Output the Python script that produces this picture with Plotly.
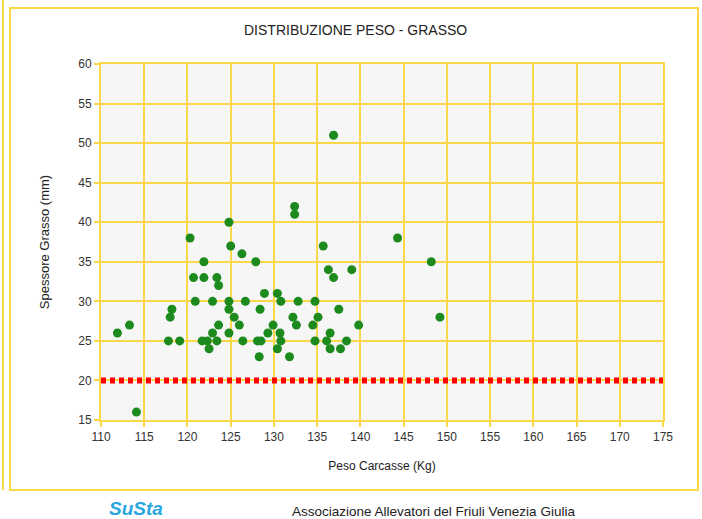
import plotly.graph_objects as go

# Data
peso = [111.9, 113.3, 114.1, 117.8, 118.0, 118.2, 119.1, 120.3, 120.7, 120.9,
        121.7, 121.9, 121.9, 122.3, 122.5, 122.9, 122.9, 123.4, 123.4, 123.6,
        123.6, 124.8, 125.0, 124.8, 124.8, 124.8, 125.4, 126.0, 126.3, 126.4,
        126.7, 127.9, 128.1, 128.5, 128.3, 128.4, 128.9, 129.3, 129.9, 130.4,
        130.4, 130.7, 130.8, 130.8, 131.8, 132.2, 132.4, 132.4, 132.6, 132.8,
        134.5, 134.75, 134.75, 135.1, 135.7, 136.1, 136.3, 136.5, 136.5, 136.9,
        136.9, 137.5, 137.7, 138.4, 139.0, 139.8, 144.3, 148.2, 149.2]
grasso = [26, 27, 16, 25, 28, 29, 25, 38, 33, 30,
          25, 35, 33, 25, 24, 30, 26, 33, 25, 32,
          27, 40, 37, 30, 29, 26, 28, 27, 36, 25,
          30, 35, 25, 25, 23, 29, 31, 26, 27, 31,
          24, 26, 30, 25, 23, 28, 42, 41, 27, 30,
          27, 30, 25, 28, 37, 25, 34, 26, 24, 33,
          51, 29, 24, 25, 34, 27, 38, 35, 28]

soglia_x = [110, 175]
soglia_y = [20, 20]

x_ticks = list(range(110, 176, 5))
y_ticks = list(range(15, 61, 5))

title_text = "DISTRIBUZIONE PESO - GRASSO"
x_title = "Peso Carcasse (Kg)"
y_title = "Spessore Grasso (mm)"
footer_text = "Associazione Allevatori del Friuli Venezia Giulia"
logo_text = "SuSta"

YELLOW = "#fbd84a"
FONT = "Liberation Sans, Arial, sans-serif"

fig = go.Figure()

fig.add_trace(go.Scatter(
    x=soglia_x, y=soglia_y, mode="lines",
    line=dict(color="#ff0000", width=6, dash="5px,4px"),
    hoverinfo="skip", showlegend=False,
))

fig.add_trace(go.Scatter(
    x=peso, y=grasso, mode="markers",
    marker=dict(color="#1d8a1d", size=9, line=dict(width=0)),
    showlegend=False,
))

L, R, T, B = 101, 39, 64, 99
W, H = 702, 519
pw = W - L - R
ph = H - T - B


def px2x(px):
    return (px - L) / pw


def py2y(py):
    return (H - B - py) / ph


shapes = [
    dict(type="rect", xref="paper", yref="paper",
         x0=px2x(10), x1=px2x(698), y0=py2y(490), y1=py2y(8),
         line=dict(color=YELLOW, width=2), fillcolor="rgba(0,0,0,0)", layer="below"),
    dict(type="line", xref="paper", yref="paper",
         x0=px2x(3), x1=px2x(3), y0=py2y(490), y1=py2y(0),
         line=dict(color=YELLOW, width=2)),
]

annotations = [
    dict(text=title_text, xref="paper", yref="paper",
         x=px2x(355), y=py2y(30), showarrow=False,
         font=dict(family=FONT, size=14, color="#222222"),
         xanchor="center", yanchor="middle"),
    dict(text=footer_text, xref="paper", yref="paper",
         x=px2x(290), y=py2y(511), showarrow=False,
         font=dict(family=FONT, size=13.5, color="#222222"),
         xanchor="left", yanchor="middle"),
    dict(text="<b><i>" + logo_text + "</i></b>", xref="paper", yref="paper",
         x=px2x(136), y=py2y(508), showarrow=False,
         font=dict(family=FONT, size=19, color="#2aa6df"),
         xanchor="center", yanchor="middle"),
]

fig.update_layout(
    width=W, height=H,
    margin=dict(l=L, r=R, t=T, b=B, pad=0),
    paper_bgcolor="white",
    plot_bgcolor="#f6f6f6",
    font=dict(family=FONT, size=12, color="#333333"),
    shapes=shapes,
    annotations=annotations,
    xaxis=dict(
        range=[110, 175], tickvals=x_ticks, ticktext=[str(v) for v in x_ticks],
        showgrid=True, gridcolor=YELLOW, gridwidth=2,
        showline=True, linecolor=YELLOW, linewidth=2, mirror=True,
        ticks="outside", tickcolor=YELLOW, ticklen=5, tickwidth=2,
        zeroline=False,
        title=dict(text=x_title, font=dict(family=FONT, size=12, color="#222222"), standoff=18),
        tickfont=dict(family=FONT, size=12, color="#333333"),
    ),
    yaxis=dict(
        range=[15, 60], tickvals=y_ticks, ticktext=[str(v) for v in y_ticks],
        showgrid=True, gridcolor=YELLOW, gridwidth=2,
        showline=True, linecolor=YELLOW, linewidth=2, mirror=True,
        ticks="outside", tickcolor=YELLOW, ticklen=5, tickwidth=2,
        zeroline=False,
        title=dict(text=y_title, font=dict(family=FONT, size=13, color="#222222"), standoff=26),
        tickfont=dict(family=FONT, size=12, color="#333333"),
    ),
)

fig.write_html("out.html", config={"displayModeBar": False},
               post_script="document.body.style.margin='0';")
